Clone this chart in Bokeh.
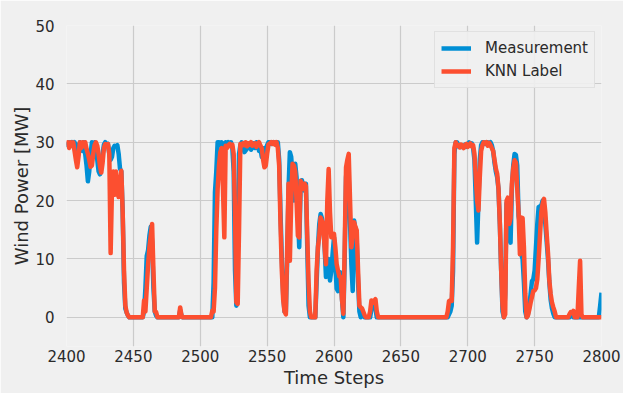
from bokeh.plotting import figure
from bokeh.models import FixedTicker, Range1d, Legend, LegendItem
from bokeh.embed import file_html
from bokeh.resources import INLINE

# ---- data (keypoints) ----
meas_t = [2400, 2401, 2402, 2403, 2404, 2405, 2406, 2407, 2408, 2409, 2410, 2411, 2412, 2413, 2414, 2415,
          2416, 2417, 2418, 2419, 2420, 2421, 2422, 2423, 2424, 2425, 2426, 2427, 2428, 2429, 2430, 2431,
          2432, 2433, 2434, 2435, 2436, 2437, 2438, 2439, 2440, 2441, 2442, 2443, 2444, 2445, 2446, 2447,
          2457, 2458, 2459, 2460, 2461, 2462, 2463, 2464, 2465, 2466, 2467, 2468,
          2484, 2485, 2486, 2487,
          2509, 2510, 2511, 2512, 2513, 2514, 2515, 2516, 2517, 2518, 2519, 2520, 2521, 2522, 2523, 2524,
          2525, 2526, 2527, 2528, 2529, 2530, 2531, 2532, 2533, 2534, 2535, 2536, 2537, 2538, 2539, 2540,
          2541, 2542, 2543, 2544, 2545, 2546, 2547, 2548, 2549, 2550, 2551, 2552, 2553, 2554, 2555, 2556,
          2557, 2558, 2559, 2560, 2561, 2562, 2563, 2564, 2565, 2566, 2567, 2568, 2569, 2570, 2571, 2572,
          2573, 2574, 2575, 2576, 2577, 2578, 2579, 2580, 2581, 2582,
          2586, 2587, 2588, 2589, 2590, 2591, 2592, 2593, 2594, 2595, 2596, 2597, 2598, 2599, 2600, 2601,
          2602, 2603, 2604, 2605, 2606, 2607, 2608, 2609, 2610, 2611, 2612, 2613, 2614, 2615, 2616, 2617,
          2618, 2619, 2620, 2621, 2622, 2623,
          2627, 2628, 2629, 2630, 2631, 2632,
          2685, 2686, 2687, 2688, 2689, 2690, 2691, 2692, 2693, 2694, 2695, 2696, 2697, 2698, 2699, 2700,
          2701, 2702, 2703, 2704, 2705, 2706, 2707, 2708, 2709, 2710, 2711, 2712, 2713, 2714, 2715, 2716,
          2717, 2718, 2719, 2720, 2721, 2722, 2723, 2724, 2725, 2726, 2727, 2728, 2729, 2730, 2731, 2732,
          2733, 2734, 2735, 2736, 2737, 2738, 2739, 2740, 2741, 2742, 2743, 2744, 2745, 2746, 2747, 2748,
          2749, 2750, 2751, 2752, 2753, 2754, 2755, 2756, 2757, 2758, 2759, 2760, 2761, 2762, 2763, 2764,
          2765, 2776, 2777, 2778, 2779, 2798, 2799, 2800]
meas_v = [30, 29.5, 30, 29.8, 30, 29.6, 30, 29, 29.5, 28, 30, 29.6, 28.5, 30, 28, 26,
          23.3, 25, 28, 30, 29.3, 30, 28.8, 27, 25, 24.5, 26, 28, 29.6, 30, 29.5, 29.7,
          28, 27, 27.5, 29, 29.4, 29.3, 29.5, 28, 25.5, 25, 18, 6, 1.5, 0.8, 0.3, 0,
          0, 1, 5, 10.5, 11.5, 14, 15.5, 13, 5, 1, 0.3, 0,
          0, 1.2, 0.3, 0,
          0, 6, 21.4, 25, 30, 30, 29.5, 30, 28, 29, 30, 29.6, 30, 29.5, 30, 29,
          25, 8, 2, 10, 28, 29.5, 30, 29.8, 28.3, 28.6, 29.6, 29, 29.8, 28.7, 29.3, 29.8,
          29, 30, 29.5, 28.5, 29, 27.5, 28, 29, 28.4, 29.5, 30, 30, 29.7, 30, 30, 29.8,
          30, 30, 27, 18, 10, 4, 1, 0.9, 10, 22, 28.3, 27.5, 24, 20, 26.3, 24,
          18, 12, 22, 23.5, 22.5, 21.7, 22.9, 12, 2, 0,
          0, 6, 12, 16, 17.7, 17, 15.4, 12, 6.9, 8, 10, 6.3, 8, 11, 13.7, 9,
          4.9, 4.5, 6, 7.7, 3, 0, 10, 24, 26.4, 24, 16, 9, 4.5, 16.6, 15, 13,
          6, 1, 0, 0.5, 0.3, 0,
          0, 1.5, 2, 2.2, 1.5, 0,
          0, 0.5, 1, 2, 8, 28, 30, 30, 29.3, 29.5, 29.2, 29.4, 29.3, 29.6, 29.2, 29.4,
          30, 29.5, 29.8, 29, 27, 20, 12.8, 20, 27, 29.5, 30, 30, 29.7, 30, 30, 29.8,
          30, 29.5, 28.5, 26.5, 25, 24, 22, 16, 8, 1, 0, 4, 19.5, 20, 14, 12.8,
          22, 26, 28, 27.8, 26, 17.4, 16, 10.8, 10, 6, 1, 0, 0.5, 2, 4, 6.2,
          6.5, 8, 12, 16, 18.9, 19, 19.2, 20, 19, 16, 13, 10, 6, 3, 1.5, 0.6,
          0, 0, 0.3, 0.5, 0, 0, 2, 4.2]

knn_t = [2400, 2401, 2402, 2403, 2404, 2405, 2406, 2407, 2408, 2409, 2410, 2411, 2412, 2413, 2414, 2415,
         2416, 2417, 2418, 2419, 2420, 2421, 2422, 2423, 2424, 2425, 2426, 2427, 2428, 2429, 2430, 2431,
         2432, 2433, 2434, 2435, 2436, 2437, 2438, 2439, 2440, 2441, 2442, 2443, 2444, 2445, 2446, 2447,
         2457, 2458, 2459, 2460, 2461, 2462, 2463, 2464, 2465, 2466, 2467, 2468,
         2484, 2485, 2486, 2487,
         2508, 2509, 2510, 2511, 2512, 2513, 2514, 2515, 2516, 2517, 2518, 2519, 2520, 2521, 2522, 2523,
         2524, 2525, 2526, 2527, 2528, 2529, 2530, 2531, 2532, 2533, 2534, 2535, 2536, 2537, 2538, 2539,
         2540, 2541, 2542, 2543, 2544, 2545, 2546, 2547, 2548, 2549, 2550, 2551, 2552, 2553, 2554, 2555,
         2556, 2557, 2558, 2559, 2560, 2561, 2562, 2563, 2564, 2565, 2566, 2567, 2568, 2569, 2570, 2571,
         2572, 2573, 2574, 2575, 2576, 2577, 2578, 2579, 2580, 2581, 2582, 2583,
         2586, 2587, 2588, 2589, 2590, 2591, 2592, 2593, 2594, 2595, 2596, 2597, 2598, 2599, 2600, 2601,
         2602, 2603, 2604, 2605, 2606, 2607, 2608, 2609, 2610, 2611, 2612, 2613, 2614, 2615, 2616, 2617,
         2618, 2619, 2620, 2621, 2622, 2623, 2624,
         2626, 2627, 2628, 2629, 2630, 2631, 2632, 2633,
         2684, 2685, 2686, 2687, 2688, 2689, 2690, 2691, 2692, 2693, 2694, 2695, 2696, 2697, 2698, 2699,
         2700, 2701, 2702, 2703, 2704, 2705, 2706, 2707, 2708, 2709, 2710, 2711, 2712, 2713, 2714, 2715,
         2716, 2717, 2718, 2719, 2720, 2721, 2722, 2723, 2724, 2725, 2726, 2727, 2728, 2729, 2730, 2731,
         2732, 2733, 2734, 2735, 2736, 2737, 2738, 2739, 2740, 2741, 2742, 2743, 2744, 2745, 2746, 2747,
         2748, 2749, 2750, 2751, 2752, 2753, 2754, 2755, 2756, 2757, 2758, 2759, 2760, 2761, 2762, 2763,
         2764, 2765, 2766, 2775, 2776, 2777, 2778, 2779, 2780, 2782, 2783, 2784, 2785, 2786, 2800]
knn_v = [29.5, 30, 29, 30, 29.4, 30, 28.5, 27, 25.7, 27.5, 30, 29, 30, 29.3, 30, 28.8,
         28, 27, 25.8, 26, 28, 29.5, 30, 29.4, 28, 26, 24.8, 26.5, 29, 29.7, 29.6, 29.7,
         28, 11, 22, 25, 21, 25, 22, 20.6, 23, 25.1, 18, 8, 2, 0.8, 0.3, 0,
         0, 2.9, 1, 5, 9, 12, 14, 16, 8, 1, 0.9, 0,
         0, 1.7, 0.3, 0,
         0, 1.1, 1, 5, 15, 22, 26, 28.3, 29, 22, 13.7, 29.4, 29, 29.5, 29.7, 29.3,
         29.6, 28, 18, 2.6, 2.3, 15, 29.7, 29.4, 29.8, 29.5, 30, 29.3, 29.8, 29.6, 30, 29.4,
         29.7, 29.8, 29.2, 29.7, 30, 29.4, 29, 27, 25.7, 26, 28, 29.6, 29.8, 30, 29.7, 30,
         29.6, 30, 29, 26, 16, 8, 3, 1, 0.5, 12, 22.9, 9.7, 20, 26.3, 26, 25,
         20, 14, 13.7, 23.4, 22.8, 22, 22.9, 22.5, 14, 6, 1, 0,
         0, 8, 12, 14, 17.1, 16.5, 16, 12, 9.1, 20, 25.4, 18, 13.7, 14, 14.3, 12,
         9.1, 8, 7, 6.9, 3, 0.6, 12, 25.7, 27, 28, 20, 12, 14, 16.3, 15.5, 14.9,
         8, 2, 1.7, 1.5, 0.9, 0.3, 0,
         0, 1, 2.9, 2.5, 2.8, 3.1, 1, 0,
         0, 1, 2.8, 2.9, 2.8, 12, 29, 30, 29.4, 29.5, 29.1, 29.6, 29.4, 29, 29.5, 29.7,
         29.2, 29.4, 29.8, 29.3, 29.5, 28, 24, 20, 18.3, 24, 28.5, 29.5, 30, 29.8, 30, 29.4,
         29.9, 29.5, 29, 28.5, 27, 25.5, 24.6, 22, 16, 8, 2, 0, 0.5, 20, 20.5, 16,
         17, 22.9, 25.5, 26.9, 26.5, 22, 18, 10.8, 17.1, 17, 12, 4, 0, 0.3, 1.3, 2.5,
         3.5, 4.5, 4.6, 5, 6.5, 10, 14, 18, 19.5, 20.3, 18, 14.3, 11, 6.3, 4, 2.5,
         1.7, 1, 0, 0, 0.5, 0.9, 0.7, 1.1, 0, 0, 5, 9.7, 0.5, 0, 0]

x_ticks = [2400, 2450, 2500, 2550, 2600, 2650, 2700, 2750, 2800]
y_ticks = [0, 10, 20, 30, 40, 50]
x_label = "Time Steps"
y_label = "Wind Power [MW]"
series_names = ["Measurement", "KNN Label"]

# ---- figure ----
BG = "#f0f0f0"
FONT = "DejaVu Sans"
TXT = "#2a2a2a"

p = figure(width=623, height=393, output_backend="svg", toolbar_location=None,
           x_range=Range1d(2400, 2800), y_range=Range1d(-5, 50),
           min_border_left=66, min_border_right=22, min_border_top=25, min_border_bottom=47)
p.background_fill_color = BG
p.border_fill_color = BG
p.outline_line_color = None

p.xaxis.ticker = FixedTicker(ticks=x_ticks)
p.yaxis.ticker = FixedTicker(ticks=y_ticks)
p.xgrid.ticker = FixedTicker(ticks=x_ticks[1:-1])
p.ygrid.ticker = FixedTicker(ticks=y_ticks[:-1])
for g in (p.xgrid, p.ygrid):
    g.grid_line_color = "#cbcbcb"
    g.grid_line_width = 1.2

for ax in (p.xaxis, p.yaxis):
    ax.axis_line_color = None
    ax.major_tick_line_color = None
    ax.minor_tick_line_color = None
    ax.major_label_text_font = FONT
    ax.major_label_text_font_size = "15px"
    ax.major_label_text_color = TXT
    ax.axis_label_text_font = FONT
    ax.axis_label_text_font_size = "18px"
    ax.axis_label_text_font_style = "normal"
    ax.axis_label_text_color = TXT

p.xaxis.axis_label = x_label
p.yaxis.axis_label = y_label
p.xaxis.major_label_standoff = -3
p.xaxis.axis_label_standoff = 2
p.yaxis.major_label_standoff = 6
p.yaxis.axis_label_standoff = 0

r1 = p.line(meas_t, meas_v, line_color="#008fd5", line_width=4.5, line_join="round")
r2 = p.line(knn_t, knn_v, line_color="#fc4f30", line_width=4.5, line_join="round")

legend = Legend(items=[LegendItem(label=series_names[0], renderers=[r1]),
                       LegendItem(label=series_names[1], renderers=[r2])],
                location="top_right")
legend.margin = 6
legend.padding = 6
legend.spacing = 3
legend.glyph_width = 30
legend.glyph_height = 20
legend.label_height = 20
legend.label_standoff = 14
legend.label_text_font = FONT
legend.label_text_font_size = "15px"
legend.label_text_color = TXT
legend.background_fill_color = BG
legend.background_fill_alpha = 0.9
legend.border_line_color = "#d2d2d2"
legend.border_line_width = 1
p.add_layout(legend)

open("out.html", "w").write(file_html(p, INLINE))
